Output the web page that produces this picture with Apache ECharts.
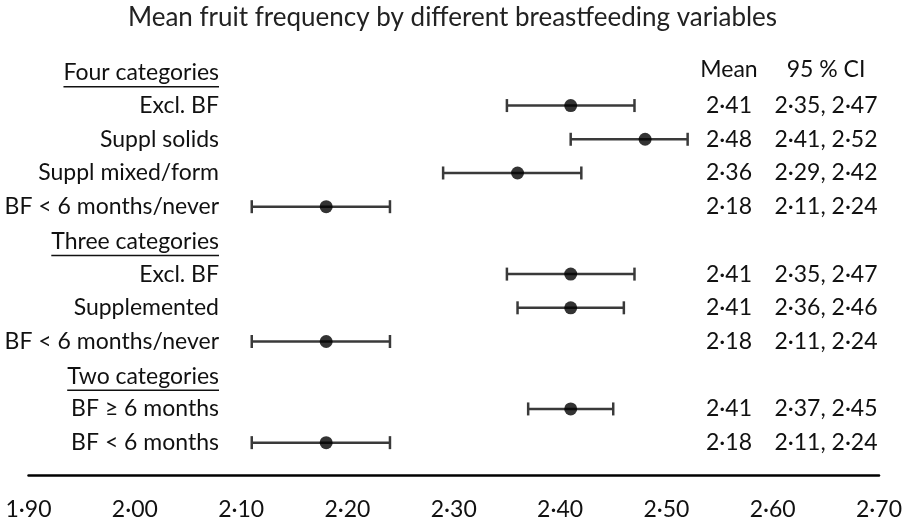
<!DOCTYPE html>
<html><head><meta charset="utf-8">
<script src="https://cdn.jsdelivr.net/npm/echarts@6/dist/echarts.min.js"></script>
<style>html,body{margin:0;padding:0;background:#fff}#c{width:905px;height:521px}</style>
</head><body><div id="c"></div>
<script>
// ---- data ----
const rowLabels = ['Four categories','Excl. BF','Suppl solids','Suppl mixed/form','BF < 6 months/never',
  'Three categories','Excl. BF','Supplemented','BF < 6 months/never',
  'Two categories','BF \u2265 6 months','BF < 6 months'];
const headerRows = [0, 5, 9];
const means = [null, 2.41, 2.48, 2.36, 2.18, null, 2.41, 2.41, 2.18, null, 2.41, 2.18];
const lower = [null, 2.35, 2.41, 2.29, 2.11, null, 2.35, 2.36, 2.11, null, 2.37, 2.11];
const upper = [null, 2.47, 2.52, 2.42, 2.24, null, 2.47, 2.46, 2.24, null, 2.45, 2.24];
const meanHeader = 'Mean';
const ciHeader = '95 % CI';
const titleText = 'Mean fruit frequency by different breastfeeding variables';
const xMin = 1.9, xMax = 2.7, xStep = 0.1;

// ---- helpers ----
const FONT = 'Lato';
const LBL = 23;
const fmt = v => v.toFixed(2).replace('.', '\u00b7');
const mctx = document.createElement('canvas').getContext('2d');
function textW(t, size) { mctx.font = size + 'px ' + FONT; return mctx.measureText(t).width; }
const TXT = '#111';

const chart = echarts.init(document.getElementById('c'));
const rowIdx = rowLabels.map((_, i) => String(i));

const barData = [], dotData = [];
means.forEach((m, i) => {
  if (m != null) { barData.push([lower[i], i, upper[i]]); dotData.push([m, i]); }
});

const option = {
  animation: false,
  title: { text: titleText, left: 'center', top: 0,
    textStyle: { fontFamily: FONT, fontSize: 26, fontWeight: 'normal', color: '#222' } },
  grid: { left: 28.5, right: 26, top: 55, bottom: 60.4 },
  xAxis: { type: 'value', min: xMin, max: xMax, interval: xStep, offset: 15.5,
    axisLine: { show: true, lineStyle: { color: '#000', width: 2.5 } },
    axisTick: { show: false }, splitLine: { show: false },
    axisLabel: { formatter: v => fmt(v), fontFamily: FONT, fontSize: LBL, color: TXT, margin: 23 } },
  yAxis: { type: 'category', data: rowIdx, inverse: true, show: false },
  series: [
    { type: 'custom', clip: false, encode: { x: [0, 2], y: 1 }, data: barData,
      renderItem(params, api) {
        const y = api.value(1);
        const lo = api.coord([api.value(0), y]);
        const hi = api.coord([api.value(2), y]);
        const h = 6.5;
        const st = { stroke: '#3a3a3a', lineWidth: 2.5 };
        return { type: 'group', children: [
          { type: 'line', shape: { x1: lo[0], y1: lo[1], x2: hi[0], y2: hi[1] }, style: st },
          { type: 'line', shape: { x1: lo[0], y1: lo[1] - h, x2: lo[0], y2: lo[1] + h }, style: st },
          { type: 'line', shape: { x1: hi[0], y1: hi[1] - h, x2: hi[0], y2: hi[1] + h }, style: st }
        ] };
      } },
    { type: 'scatter', data: dotData, symbol: 'circle', symbolSize: 13,
      itemStyle: { color: '#000' }, z: 5 },
    { type: 'custom', clip: false, encode: { x: 0, y: 1 },
      data: rowLabels.map((_, i) => [xMin, i]),
      renderItem(params, api) {
        const i = params.dataIndex;
        const y = api.coord([xMin, i])[1];
        const xr = params.coordSys.x + 190.5;
        const name = rowLabels[i];
        const isHead = headerRows.indexOf(i) >= 0;
        const ty = isHead ? y + 1 : y;
        const kids = [{ type: 'text', style: { text: name, x: xr, y: ty, align: 'right', textAlign: 'right',
          verticalAlign: 'middle', textVerticalAlign: 'middle', fontSize: LBL, fontFamily: FONT, fill: TXT } }];
        if (isHead) {
          const w = textW(name, LBL);
          kids.push({ type: 'line', shape: { x1: xr - w, y1: y + 15, x2: xr, y2: y + 15 },
            style: { stroke: TXT, lineWidth: 1.5 } });
        }
        return { type: 'group', children: kids };
      } },
    { type: 'custom', clip: false, encode: { x: 0, y: 1 },
      data: rowLabels.map((_, i) => [xMax, i]),
      renderItem(params, api) {
        const i = params.dataIndex;
        const y = api.coord([xMax, i])[1];
        const right = params.coordSys.x + params.coordSys.width;
        let a = null, b = null, yy = y;
        if (i === 0) { a = meanHeader; b = ciHeader; yy = y - 2; }
        else if (means[i] != null) { a = fmt(means[i]); b = fmt(lower[i]) + ', ' + fmt(upper[i]); }
        if (a == null) return { type: 'group', children: [] };
        const mk = (t, x) => ({ type: 'text', style: { text: t, x: x, y: yy, align: 'center', textAlign: 'center',
          verticalAlign: 'middle', textVerticalAlign: 'middle', fontSize: LBL, fontFamily: FONT, fill: TXT } });
        return { type: 'group', children: [mk(a, right - 150), mk(b, right - 53)] };
      } }
  ]
};
chart.setOption(option);
</script></body></html>
